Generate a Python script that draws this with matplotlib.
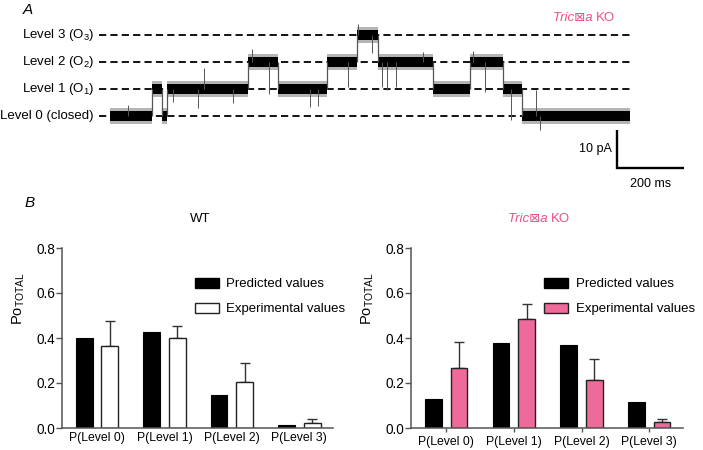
import matplotlib
matplotlib.use("Agg")
import matplotlib.pyplot as plt
from matplotlib.patches import Patch
import numpy as np

plt.rcParams['font.family'] = ['Liberation Sans', 'DejaVu Sans']

PINK = '#ee6a9a'
PINK_TXT = '#e8508a'
KO_ITAL = 'Tric\u22a0a'

# ---- panel A: single-channel trace (ms, level index) ----
seg_start = [0, 125, 155, 170, 412, 501, 648, 737, 800, 964, 1075, 1173, 1230]
seg_end = [125, 155, 170, 412, 501, 648, 737, 800, 964, 1075, 1173, 1230, 1552]
seg_level = [0, 1, 0, 1, 2, 1, 2, 3, 2, 1, 2, 1, 0]
# brief spikes: time (ms), excursion from current level (pA)
spike_t = [54, 188, 263, 281, 367, 424, 475, 597, 621, 710, 740, 782,
           812, 827, 854, 934, 1084, 1119, 1197, 1272, 1284]
spike_d = [2.9, -3.4, -5.0, 5.5, -3.7, 3.4, -8.4, -4.7, -4.5, -6.6, 2.9, -4.7,
           -6.6, -7.4, -6.6, 2.6, 3.0, -7.9, -8.2, 6.8, -3.7]
level_labels = ['Level 0 (closed)', 'Level 1 (O$_\\mathregular{1}$)',
                'Level 2 (O$_\\mathregular{2}$)', 'Level 3 (O$_\\mathregular{3}$)']
LEVEL_PA = 7.1

# ---- panel B: open probabilities ----
cats = ['P(Level 0)', 'P(Level 1)', 'P(Level 2)', 'P(Level 3)']
wt_pred = [0.400, 0.427, 0.148, 0.015]
wt_exp = [0.366, 0.400, 0.204, 0.022]
wt_err = [0.108, 0.055, 0.087, 0.016]
ko_pred = [0.130, 0.379, 0.368, 0.117]
ko_exp = [0.266, 0.484, 0.214, 0.028]
ko_err = [0.116, 0.065, 0.093, 0.012]

W, H = 703, 450
fig = plt.figure(figsize=(W / 100, H / 100), dpi=100)


def px_axes(x0, y0, x1, y1):
    return fig.add_axes([x0 / W, 1 - y1 / H, (x1 - x0) / W, (y1 - y0) / H])


def ko_label(xc, yc):
    # italic gene name, upright "KO"
    fig.text(xc / W, 1 - yc / H, KO_ITAL + ' ', fontsize=9.5, style='italic',
             color=PINK_TXT, ha='right', va='center')
    fig.text(xc / W, 1 - yc / H, 'KO', fontsize=9.5,
             color=PINK_TXT, ha='left', va='center')


# panel A
MS_PER_PX = 200 / 67
PA_PER_PX = 10 / 38
axA = px_axes(0, 0, W, 200)
axA.set_xlim(-110 * MS_PER_PX, (W - 110) * MS_PER_PX)
axA.set_ylim(-(200 - 116) * PA_PER_PX, 116 * PA_PER_PX)
axA.axis('off')

for i, lab in enumerate(level_labels):
    axA.hlines(i * LEVEL_PA, -33, 1552, colors='black', lw=1.3,
               linestyles=(0, (4, 2.3)), zorder=1)
    axA.text(-48, i * LEVEL_PA, lab, ha='right', va='center', fontsize=9.5)

for s, e, lev in zip(seg_start, seg_end, seg_level):
    y = lev * LEVEL_PA
    axA.fill_between([s, e], y - 2.0, y + 2.0, color='#b5b5b5', lw=0, zorder=2)
    axA.fill_between([s, e], y - 1.4, y + 1.4, color='black', lw=0, zorder=3)
for k in range(1, len(seg_start)):
    axA.vlines(seg_start[k], seg_level[k - 1] * LEVEL_PA, seg_level[k] * LEVEL_PA,
               colors='#555555', lw=0.9, zorder=3)
for t, d in zip(spike_t, spike_d):
    k = np.searchsorted(seg_end, t)
    base = seg_level[k] * LEVEL_PA
    axA.vlines(t, base, base + d, colors='#555555', lw=0.7, zorder=3)

# scale bar
axA.plot([1513, 1513, 1713], [-3.7, -13.7, -13.7], color='black', lw=1.7,
         solid_joinstyle='miter', solid_capstyle='butt')
axA.text(1498, -8.6, '10 pA', ha='right', va='center', fontsize=9)
axA.text(1613, -18.0, '200 ms', ha='center', va='center', fontsize=9)

fig.text(28 / W, 1 - 10 / H, 'A', fontsize=11, style='italic', ha='center', va='center')
ko_label(596, 18)
fig.text(30 / W, 1 - 203 / H, 'B', fontsize=11, style='italic', ha='center', va='center')


def bar_panel(ax, pred, exp, err, exp_color, show_ticks):
    x = np.arange(len(cats))
    off, bw = 0.19, 0.25
    ax.bar(x - off, pred, bw, color='black', edgecolor='black', lw=0.8, zorder=2)
    ax.bar(x + off, exp, bw, color=exp_color, edgecolor='#222222', lw=1.0, zorder=2)
    ax.errorbar(x + off, exp, yerr=[np.zeros(len(err)), err], fmt='none',
                ecolor='#333333', elinewidth=1.0, capsize=3.5, capthick=1.0, zorder=1)
    ax.set_xlim(-0.52, 3.5)
    ax.set_ylim(0, 0.8)
    ax.set_yticks([0, 0.2, 0.4, 0.6, 0.8])
    ax.set_yticklabels(['0.0', '0.2', '0.4', '0.6', '0.8'])
    ax.set_xticks(x)
    ax.set_xticklabels(cats, fontsize=8.8)
    for s in ['top', 'right']:
        ax.spines[s].set_visible(False)
    for s in ['left', 'bottom']:
        ax.spines[s].set_color('#555555')
        ax.spines[s].set_linewidth(1.1)
    ax.tick_params(axis='y', length=4, width=1.0, color='#555555', labelsize=9.8, pad=1)
    ax.tick_params(axis='x', length=3 if show_ticks else 0, width=1.0,
                   color='#555555', pad=3)
    ax.set_ylabel('Po$_\\mathregular{TOTAL}$', fontsize=10.5)
    ax.yaxis.set_label_coords(-0.13, 0.72)
    handles = [Patch(facecolor='black', edgecolor='black'),
               Patch(facecolor=exp_color, edgecolor='#222222')]
    ax.legend(handles, ['Predicted values', 'Experimental values'],
              loc='upper left', bbox_to_anchor=(0.49, 0.835), frameon=False,
              fontsize=9.5, handlelength=1.8, handleheight=0.8,
              handletextpad=0.6, labelspacing=0.95, borderpad=0, borderaxespad=0)


axL = px_axes(62, 248, 333, 428)
bar_panel(axL, wt_pred, wt_exp, wt_err, 'white', False)
fig.text(200 / W, 1 - 219 / H, 'WT', fontsize=9.5, ha='center', va='center')

axR = px_axes(411, 248, 683, 428)
bar_panel(axR, ko_pred, ko_exp, ko_err, PINK, True)
ko_label(551, 219)

fig.savefig('out.png', dpi=100)
